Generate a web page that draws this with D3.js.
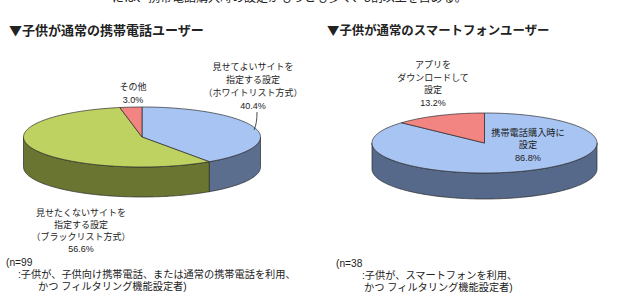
<!DOCTYPE html>
<html><head><meta charset="utf-8">
<script src="https://cdn.jsdelivr.net/npm/d3@7"></script>
<style>
html,body{margin:0;padding:0;background:#fff;}
svg{display:block;}
text{font-family:"Liberation Sans","Noto Sans CJK JP",sans-serif;fill:#222;}
text.t{font-family:"Noto Sans CJK JP",sans-serif;}
</style></head>
<body>
<script>
// ---- data ----
const leftTitle = "▼子供が通常の携帯電話ユーザー";
const rightTitle = "▼子供が通常のスマートフォンユーザー";
const leftCategories = ["見せてよいサイトを指定する設定（ホワイトリスト方式）", "見せたくないサイトを指定する設定（ブラックリスト方式）", "その他"];
const leftValues = [40.4, 56.6, 3.0];
const rightCategories = ["携帯電話購入時に設定", "アプリをダウンロードして設定"];
const rightValues = [86.8, 13.2];
const leftNote = ["(n=99", ":子供が、子供向け携帯電話、または通常の携帯電話を利用、", "かつ フィルタリング機能設定者)"];
const rightNote = ["(n=38", ":子供が、スマートフォンを利用、", "かつ フィルタリング機能設定者)"];

const W = 640, H = 303;
const svg = d3.select("body").append("svg").attr("width", W).attr("height", H);

// cut-off line of page text at the very top
svg.append("text").attr("class", "t").attr("x", 112).attr("y", 2).attr("font-size", 12).attr("fill", "#555")
  .text("には、携帯電話購入時の設定がもっとも多く、8割以上を占める。");

function draw3DPie(cfg) {
  const {cx, cy, rx, ry, depth, values, tops, sides} = cfg;
  const pie = d3.pie().sort(null).value(d => d)(values);
  const pt = (a, dy = 0) => [cx + rx * Math.sin(a), cy - ry * Math.cos(a) + dy];
  const line = d3.line();
  const sample = (a0, a1, dy) => {
    const n = Math.max(2, Math.ceil(Math.abs(a1 - a0) / 0.02));
    return d3.range(n + 1).map(i => pt(a0 + (a1 - a0) * i / n, dy));
  };
  const g = svg.append("g");
  pie.forEach((p, i) => {
    const s = Math.max(p.startAngle, Math.PI / 2), e = Math.min(p.endAngle, 3 * Math.PI / 2);
    if (e > s) {
      const pts = sample(s, e, 0).concat(sample(e, s, depth));
      g.append("path").attr("d", line(pts) + "Z")
        .attr("fill", sides[i]).attr("stroke", "#2a2a2a").attr("stroke-width", 0.7);
    }
  });
  pie.forEach((p, i) => {
    const pts = [[cx, cy]].concat(sample(p.startAngle, p.endAngle, 0));
    g.append("path").attr("d", line(pts) + "Z")
      .attr("fill", tops[i]).attr("stroke", "#2a2a2a").attr("stroke-width", 0.7);
  });
}

draw3DPie({cx: 142, cy: 137, rx: 118.5, ry: 30, depth: 30, values: leftValues,
  tops: ["#a7c4f2", "#bed262", "#f28582"], sides: ["#5b6e8e", "#6a7531", "#a85050"]});
draw3DPie({cx: 484.5, cy: 143, rx: 112.5, ry: 30, depth: 26, values: rightValues,
  tops: ["#a7c4f2", "#f28582"], sides: ["#56698a", "#a85050"]});

function lines(x, ys, arr, size, anchor = "middle", weight = "normal") {
  arr.forEach((t, i) => svg.append("text").attr("x", Array.isArray(x) ? x[i] : x).attr("y", ys[i])
    .attr("font-size", size).attr("text-anchor", anchor).attr("font-weight", weight).text(t));
}

// titles
svg.append("text").attr("class", "t").attr("x", 9).attr("y", 35).attr("font-size", 13).attr("font-weight", "bold").text(leftTitle);
svg.append("text").attr("class", "t").attr("x", 327).attr("y", 35).attr("font-size", 12.4).attr("font-weight", "bold").text(rightTitle);

const fmt = v => v.toFixed(1) + "%";
// left labels
lines(253, [70, 83, 96, 109], ["見せてよいサイトを", "指定する設定", "（ホワイトリスト方式）", fmt(leftValues[0])], 9);
lines(133, [90, 103], ["その他", fmt(leftValues[2])], 9);
lines(81, [216, 228, 240, 252], ["見せたくないサイトを", "指定する設定", "（ブラックリスト方式）", fmt(leftValues[1])], 9);
svg.append("path").attr("d", "M257,112 Q257,124 254,130").attr("fill", "none").attr("stroke", "#222").attr("stroke-width", 0.8);

// right labels
lines(433, [68, 81, 93, 106], ["アプリを", "ダウンロードして", "設定", fmt(rightValues[1])], 9);
lines(528, [136, 148, 161], ["携帯電話購入時に", "設定", fmt(rightValues[0])], 9.2);

// notes
lines([6, 18, 38], [266, 278, 290], leftNote, 10.2, "start");
lines([336, 362, 364], [267, 279, 291], rightNote, 10.2, "start");
</script>
</body></html>
